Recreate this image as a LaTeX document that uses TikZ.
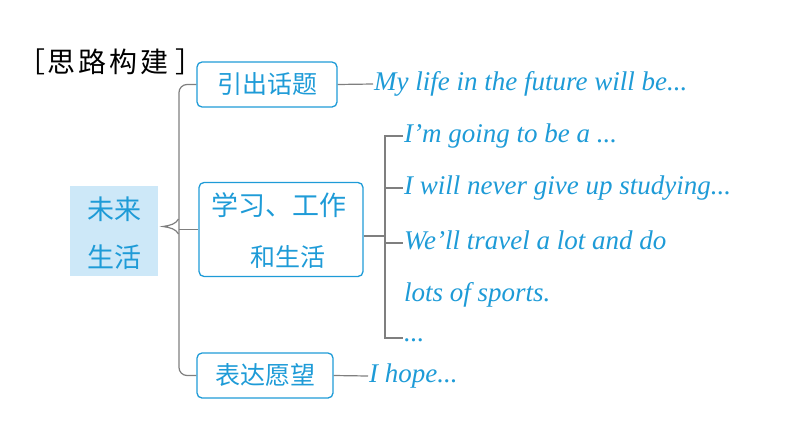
\documentclass[tikz,border=0pt]{standalone}
\usepackage{fontspec}
\newfontfamily\cjk{Noto Sans CJK SC}
\newfontfamily\hand{Liberation Serif}
\definecolor{mblue}{HTML}{1E9BD7}
\definecolor{bfill}{HTML}{CDE8F8}
\definecolor{lgray}{HTML}{7F7F7F}
\tikzset{
  box/.style={draw=mblue, line width=1.3pt, rounded corners=5pt, inner sep=0pt},
  cjktext/.style={text=mblue, font=\cjk\fontsize{25}{30}\selectfont, inner sep=0pt},
  eng/.style={text=mblue, font=\hand\itshape\fontsize{27}{30}\selectfont, anchor=west, inner sep=1pt, text height=18pt, text depth=6pt},
  conn/.style={draw=lgray, line width=1.2pt}
}
\begin{document}
\begin{tikzpicture}[x=1pt,y=-1pt]
\useasboundingbox (0,0) rectangle (794,447);
% title
\node[font=\cjk\fontsize{28}{30}\selectfont, anchor=west, inner sep=0pt] (title) at (17,62) {［\hspace{2pt}思\hspace{3pt}路\hspace{3pt}构\hspace{3pt}建\hspace{7pt}］};
% central block
\node[fill=bfill, minimum width=88pt, minimum height=90pt, inner sep=0pt] (c) at (114,231) {};
\node[cjktext, font=\cjk\fontsize{27}{30}\selectfont] (c1) at (114,209) {未来};
\node[cjktext, font=\cjk\fontsize{27}{30}\selectfont] (c2) at (114,257) {生活};
% boxes
\node[box, minimum width=140pt, minimum height=45pt] (b1) at (267,84.5) {};
\node[cjktext] at (b1) {引出话题};
\node[box, minimum width=164pt, minimum height=94pt] (b2) at (281,229.5) {};
\node[cjktext, font=\cjk\fontsize{27}{30}\selectfont] (b2a) at (279,205) {学习、工作};
\node[cjktext] (b2b) at (288,257) {和生活};
\node[box, minimum width=136pt, minimum height=45pt] (b3) at (265,375.5) {};
\node[cjktext] at (b3) {表达愿望};
% spine
\coordinate (spine) at (179,229.5);
\draw[conn, rounded corners=8pt] (b1.west) -| (spine) |- (b3.west);
\draw[conn] (spine) -- (b2.west);
\draw[conn] (178.5,219) .. controls (176,224) and (170,225.5) .. (163,226.5) .. controls (170,227.5) and (176,229) .. (178.5,234);
% texts
\node[eng] (t0) at (373,84) {My life in the future will be...};
\node[eng] (t1) at (403,136) {I’m going to be a ...};
\node[eng] (t2) at (403,188) {I will never give up studying...};
\node[eng] (t3) at (403,243) {We’ll travel a lot and do};
\node[eng] (t3b) at (403,295) {lots of sports.};
\node[text=mblue, font=\hand\itshape\fontsize{27}{30}\selectfont, anchor=base west, inner sep=1pt] (t4) at (403,341) {...};
\node[eng] (t5) at (368,376) {I hope...};
\draw[conn] (b1.east) -- (t0.west);
\draw[conn] (b3.east) -- (t5.west);
% sub branches
\coordinate (sub) at (385,236);
\draw[conn] (b2.east |- sub) -- (sub);
\draw[conn] (t1.west) -| (sub) |- (t4.west |- 0,338);
\draw[conn] (sub |- t2.west) -- (t2.west);
\draw[conn] (sub |- t3.west) -- (t3.west);
\end{tikzpicture}
\end{document}
